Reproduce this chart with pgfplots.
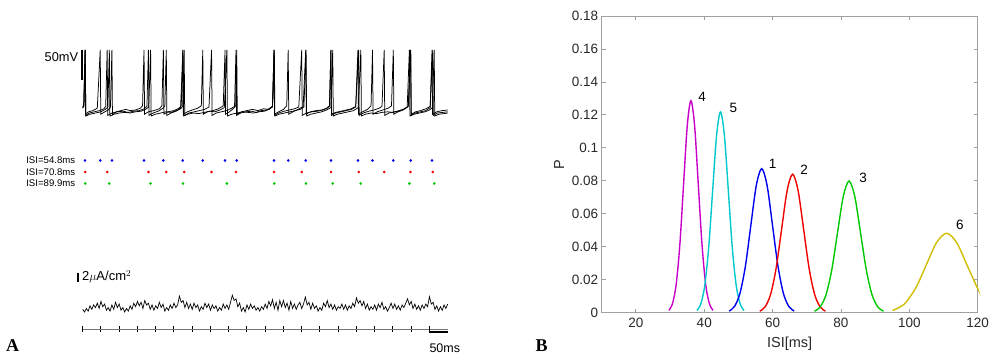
\documentclass[border=0pt]{standalone}
\usepackage{pgfplots}
\pgfplotsset{compat=1.18}
\usepackage{fontspec}
\setmainfont{Liberation Sans}
\newfontfamily\seriffont{Liberation Serif}
\definecolor{cmag}{RGB}{200,0,200}
\definecolor{ccyan}{RGB}{0,200,205}
\definecolor{cblue}{RGB}{0,0,240}
\definecolor{cred}{RGB}{240,0,0}
\definecolor{cgreen}{RGB}{0,200,0}
\definecolor{cyel}{RGB}{210,190,0}
\definecolor{boxgray}{RGB}{160,160,160}
\definecolor{labgray}{RGB}{40,40,40}
\begin{document}
\begin{tikzpicture}
\useasboundingbox (0pt,0pt) rectangle (1000pt,362pt);
\pgfplotsset{panelA/.style={scale only axis, width=365pt, xmin=0, xmax=1000, axis lines=none, clip=false, anchor=south west}}

% ---------------- voltage traces ----------------
\begin{axis}[panelA, at={(82.7pt,243pt)}, height=72pt, ymin=-80, ymax=40]
\addplot[black, line width=0.75pt] coordinates {
(0,-62) (3,-58) (6,35) (7.5,-72) (16,-68) (28,-66) (40,-62) (48,35) (49.5,-72) (58,-69) (70,-65) (76,-60) (80,35) (81.5,-73) (92,-68) (105,-66) (118,-64) (130,-66) (145,-65) (158,-62) (164,-58) (168,35) (169.5,-72) (180,-68) (195,-66) (210,-63) (217,-58) (221,35) (222.5,-72) (234,-68) (250,-66) (264,-62) (270,-58) (274,35) (275.5,-72) (287,-68) (300,-65) (315,-62) (325,-58) (329,35) (330.5,-72) (342,-68) (357,-66) (372,-63) (385,-58) (390,35) (391.5,-72) (402,-68) (414,-62) (419,-58) (422,35) (423.5,-72) (435,-68) (450,-66) (465,-64) (480,-66) (495,-63) (510,-64) (520,-58) (524,35) (525.5,-72) (537,-68) (550,-64) (559,-58) (563,35) (564.5,-72) (576,-68) (590,-64) (604,-59) (611,35) (612.5,-72) (624,-68) (640,-66) (655,-65) (668,-62) (676,-58) (680,35) (681.5,-72) (693,-69) (708,-67) (722,-65) (736,-63) (748,-59) (754,35) (755.5,-72) (767,-68) (780,-64) (790,-58) (794,35) (795.5,-72) (807,-68) (822,-65) (837,-62) (846,-58) (851,35) (852.5,-72) (864,-68) (878,-65) (892,-59) (899,35) (900.5,-72) (912,-68) (926,-66) (940,-63) (952,-59) (957,35) (958.5,-72) (970,-68) (985,-66) (1000,-65)};
\addplot[black, line width=0.75pt] coordinates {
(0,-60) (3,-57) (7,35) (8.5,-74) (18,-70) (32,-68) (46,-66) (58,-63) (63,-59) (67,35) (68.5,-74) (80,-70) (95,-68) (110,-67) (125,-69) (140,-67) (155,-66) (168,-63) (176,-59) (180,35) (181.5,-74) (193,-70) (207,-67) (220,-62) (225,-59) (229,35) (230.5,-74) (242,-70) (256,-67) (268,-63) (274,-59) (278,35) (279.5,-74) (291,-70) (306,-68) (320,-66) (334,-64) (346,-60) (353,35) (354.5,-74) (366,-70) (380,-68) (394,-66) (408,-62) (416,-59) (420,35) (421.5,-74) (433,-70) (448,-68) (462,-67) (476,-69) (490,-66) (504,-65) (516,-61) (520,-59) (524,35) (525.5,-74) (537,-70) (552,-67) (566,-65) (580,-63) (592,-60) (600,35) (601.5,-74) (613,-70) (628,-68) (643,-67) (658,-65) (670,-62) (676,-59) (680,35) (681.5,-74) (693,-70) (708,-68) (722,-66) (736,-64) (748,-60) (756,35) (757.5,-74) (769,-70) (784,-67) (798,-65) (812,-62) (820,-59) (826,35) (827.5,-74) (839,-70) (854,-68) (868,-66) (882,-63) (892,-59) (898,35) (899.5,-74) (911,-70) (926,-68) (940,-66) (952,-61) (959,35) (960.5,-74) (972,-70) (986,-69) (1000,-68)};
\addplot[black, line width=0.75pt] coordinates {
(0,-61) (3,-58) (7,35) (8.5,-75) (20,-72) (35,-70) (50,-68) (62,-64) (69,-60) (73,35) (74.5,-75) (86,-72) (100,-70) (115,-69) (130,-70) (145,-68) (160,-67) (172,-64) (181,-60) (186,35) (187.5,-75) (199,-72) (214,-70) (228,-68) (242,-69) (256,-66) (268,-62) (275,35) (276.5,-75) (288,-72) (303,-70) (318,-71) (333,-69) (348,-67) (362,-68) (376,-65) (388,-61) (395,35) (396.5,-75) (408,-72) (423,-70) (438,-68) (453,-69) (468,-70) (483,-68) (498,-67) (510,-64) (520,-60) (525,35) (526.5,-75) (538,-72) (553,-70) (568,-68) (582,-66) (596,-64) (606,-60) (612,35) (613.5,-75) (625,-72) (640,-70) (655,-68) (668,-65) (680,-61) (685,35) (686.5,-75) (698,-72) (713,-70) (728,-68) (742,-66) (755,-61) (762,35) (763.5,-75) (775,-72) (790,-70) (805,-71) (820,-69) (835,-68) (850,-69) (865,-67) (878,-64) (889,-60) (895,35) (896.5,-75) (908,-72) (923,-70) (938,-68) (950,-65) (958,-61) (963,35) (964.5,-75) (976,-72) (990,-71) (1000,-70)};
\addplot[black, line width=2pt] coordinates {(-3,35) (-3,-15)};
\node[anchor=east, inner sep=0pt, font=\fontsize{12.8}{14}\selectfont] at (axis cs:-12,22.5) {50mV};
\end{axis}

% ---------------- spike rasters ----------------
\begin{axis}[panelA, at={(82.7pt,172.75pt)}, height=34.5pt, ymin=0.5, ymax=3.5]
\addplot[only marks, mark=*, mark size=1.1pt, cblue, mark options={draw=none, fill=cblue}] coordinates {
(6,3) (48,3) (80,3) (168,3) (221,3) (274,3) (329,3) (390,3) (422,3) (524,3) (563,3) (611,3) (680,3) (754,3) (794,3) (851,3) (899,3) (957,3)};
\addplot[only marks, mark=*, mark size=1.1pt, cred, mark options={draw=none, fill=cred}] coordinates {
(7,2) (67,2) (180,2) (229,2) (278,2) (353,2) (420,2) (524,2) (600,2) (680,2) (756,2) (826,2) (898,2) (959,2)};
\addplot[only marks, mark=*, mark size=1.1pt, cgreen, mark options={draw=none, fill=cgreen}] coordinates {
(7,1) (73,1) (186,1) (275,1) (395,1) (525,1) (612,1) (685,1) (762,1) (895,1) (963,1)};
\node[anchor=west, inner sep=0pt, font=\fontsize{9.6}{11}\selectfont] at (axis cs:-155,3) {ISI=54.8ms};
\node[anchor=west, inner sep=0pt, font=\fontsize{9.6}{11}\selectfont] at (axis cs:-155,2) {ISI=70.8ms};
\node[anchor=west, inner sep=0pt, font=\fontsize{9.6}{11}\selectfont] at (axis cs:-155,1) {ISI=89.9ms};
\end{axis}

% ---------------- current trace ----------------
\begin{axis}[panelA, at={(82.7pt,42.1pt)}, height=48.4pt, ymin=-3, ymax=8]
\addplot[black, line width=0.7pt] coordinates {
(0,-0.6) (5,-1.2) (10,-0.4) (15,-1.0) (20,0.2) (25,-0.6) (30,0.4) (35,-0.2) (40,0.8) (45,-0.4)
(50,1.2) (55,0.0) (60,0.6) (65,-0.8) (70,-0.2) (75,-1.0) (80,0.4) (85,-0.6) (90,1.0) (95,-0.2)
(100,0.6) (105,-0.8) (110,-0.2) (115,-1.2) (120,-0.4) (125,-1.0) (130,0.2) (135,-0.6) (140,0.8) (145,0.0)
(150,1.2) (155,0.2) (160,1.0) (165,-0.4) (170,1.4) (175,0.4) (180,0.8) (185,-0.6) (190,0.4) (195,-0.8)
(200,0.2) (205,-0.4) (210,1.0) (215,-0.2) (220,0.6) (225,-1.0) (230,-0.2) (235,-0.8) (240,0.4) (245,-0.4)
(250,0.8) (255,-0.2) (260,0.4) (265,2.4) (270,1.0) (275,1.4) (280,-0.2) (285,1.0) (290,-0.4) (295,0.6)
(300,-0.6) (305,0.8) (310,-0.2) (315,0.4) (320,-1.0) (325,0.0) (330,-0.6) (335,0.8) (340,-0.2) (345,0.6)
(350,-0.8) (355,0.4) (360,-0.4) (365,0.2) (370,-1.0) (375,-0.2) (380,-0.8) (385,0.6) (390,-0.4) (395,0.4)
(400,-0.6) (405,1.0) (410,2.6) (415,1.4) (420,1.8) (425,0.0) (430,0.8) (435,-1.0) (440,-0.2) (445,-1.2)
(450,0.4) (455,-0.6) (460,0.6) (465,-0.4) (470,0.2) (475,-0.8) (480,-0.2) (485,-1.0) (490,0.0) (495,-0.6)
(500,0.6) (505,-0.4) (510,1.2) (515,0.2) (520,1.6) (525,-0.4) (530,1.0) (535,-0.8) (540,1.4) (545,0.0)
(550,1.4) (555,-0.2) (560,0.8) (565,-0.8) (570,1.2) (575,-0.4) (580,0.6) (585,-0.6) (590,0.4) (595,1.0)
(600,-0.4) (605,0.6) (610,2.2) (615,0.4) (620,1.0) (625,-0.6) (630,0.8) (635,-0.4) (640,0.2) (645,-1.0)
(650,-0.2) (655,-0.8) (660,0.8) (665,0.0) (670,1.4) (675,-0.2) (680,0.6) (685,-0.6) (690,0.4) (695,-0.8)
(700,0.0) (705,-0.4) (710,0.6) (715,-0.6) (720,0.4) (725,-0.8) (730,0.2) (735,-0.4) (740,0.8) (745,0.0)
(750,2.0) (755,0.8) (760,1.4) (765,0.2) (770,1.2) (775,-0.4) (780,0.6) (785,-0.8) (790,0.0) (795,-0.6)
(800,0.4) (805,-0.8) (810,0.6) (815,-0.2) (820,1.0) (825,-0.6) (830,0.0) (835,-1.0) (840,-0.2) (845,0.8)
(850,-0.4) (855,0.6) (860,-0.6) (865,0.2) (870,-0.8) (875,0.4) (880,-0.2) (885,0.8) (890,1.8) (895,0.4)
(900,1.2) (905,-0.4) (910,0.6) (915,-0.6) (920,0.2) (925,-0.8) (930,0.4) (935,-0.4) (940,0.6) (945,0.0)
(950,2.3) (955,0.6) (960,1.0) (965,-0.6) (970,0.2) (975,-1.0) (980,0.0) (985,-0.8) (990,0.4) (995,-0.4) (1000,0.6)};
\addplot[black, line width=2pt] coordinates {(-12,5.6) (-12,7.6)};
\node[anchor=west, inner sep=0pt, font=\fontsize{13}{14}\selectfont] at (axis cs:-2,6.8) {2$\mu$A/cm$^2$};
\end{axis}

% ---------------- time axis ----------------
\begin{axis}[scale only axis, width=365pt, xmin=0, xmax=1000, anchor=south west, clip=false,
  at={(82.7pt,32.7pt)}, height=6pt, ymin=0, ymax=1,
  axis x line=bottom, axis y line=none, axis line style={-, black!55, line width=1pt},
  xtick={0,50,100,150,200,250,300,350,400,450,500,550,600,650,700,750,800,850,900,950},
  xticklabels={}, tick align=center, major tick length=6pt,
  tick style={black, line width=1pt}]
\addplot[black, line width=1.4pt] coordinates {(950,-0.45) (1000,-0.45)};
\addplot[black, line width=1pt] coordinates {(950,0.55) (950,-0.55)};
\node[font=\fontsize{12.5}{14}\selectfont] at (axis cs:992,-3.17) {50ms};
\end{axis}

% ---------------- panel B ----------------
\begin{axis}[at={(601.7pt,49.3pt)}, anchor=south west, scale only axis,
  width=376pt, height=296.7pt, clip=false,
  xmin=10, xmax=120, ymin=0, ymax=0.18,
  xtick={20,40,60,80,100,120},
  ytick={0,0.02,0.04,0.06,0.08,0.1,0.12,0.14,0.16,0.18},
  scaled y ticks=false,
  yticklabel style={/pgf/number format/fixed, /pgf/number format/precision=2},
  /pgf/number format/assume math mode=true,
  tick pos=both, tick align=inside, major tick length=4pt,
  axis line style={boxgray, line width=0.8pt},
  tick style={boxgray, line width=0.8pt},
  ticklabel style={font=\fontsize{13.5}{15}\selectfont, text=labgray},
  xticklabel style={yshift=-2pt},
  xlabel={ISI[ms]}, ylabel={P},
  label style={font=\fontsize{14.5}{16}\selectfont, text=labgray},
  xlabel style={at={(axis description cs:0.5,-0.103)}, anchor=center},
  ylabel style={at={(axis description cs:-0.113,0.5)}, anchor=center},
  ]
\addplot[cmag, line width=1.4pt, smooth] coordinates {
(29.65,0.00143) (30.73,0.00565) (31.80,0.0174) (32.88,0.04176) (33.95,0.0780) (35.03,0.1135) (36.10,0.1286) (37.18,0.1135) (38.25,0.0780) (39.33,0.04176) (40.40,0.0174) (41.48,0.00565) (42.55,0.00143)};
\addplot[ccyan, line width=1.4pt, smooth] coordinates {
(37.85,0.00135) (39.00,0.00535) (40.15,0.01648) (41.30,0.03955) (42.45,0.07387) (43.60,0.10749) (44.75,0.1218) (45.90,0.10749) (47.05,0.07387) (48.20,0.03955) (49.35,0.01648) (50.50,0.00535) (51.65,0.00135)};
\addplot[cblue, line width=1.4pt, smooth] coordinates {
(47.29,0.00097) (48.88,0.00384) (50.46,0.01183) (52.05,0.02838) (53.63,0.05301) (55.22,0.07713) (56.80,0.0874) (58.39,0.07713) (59.97,0.05301) (61.56,0.02838) (63.14,0.01183) (64.73,0.00384) (66.31,0.00097)};
\addplot[cred, line width=1.4pt, smooth] coordinates {
(56.25,0.00093) (57.85,0.00369) (59.45,0.01137) (61.05,0.02727) (62.65,0.05095) (64.25,0.07413) (65.85,0.0840) (67.45,0.07413) (69.05,0.05095) (70.65,0.02727) (72.25,0.01137) (73.85,0.00369) (75.45,0.00093)};
\addplot[cgreen, line width=1.4pt, smooth] coordinates {
(72.24,0.00089) (73.93,0.00351) (75.61,0.01081) (77.30,0.02594) (78.98,0.04846) (80.67,0.07051) (82.35,0.0799) (84.04,0.07051) (85.72,0.04846) (87.41,0.02594) (89.09,0.01081) (90.78,0.00351) (92.46,0.00089)};
\addplot[cyel, line width=1.4pt, smooth] coordinates {
(95.1,0.00133) (97.6,0.00384) (99.1,0.00652) (102.05,0.01565) (105.0,0.02923) (107.95,0.04254) (110.9,0.0482) (113.85,0.04254) (116.8,0.02923) (119.75,0.01565) (120,0.01468)};
\node[font=\fontsize{13.5}{15}\selectfont] at (axis cs:39.4,0.1311) {4};
\node[font=\fontsize{13.5}{15}\selectfont] at (axis cs:48.5,0.1240) {5};
\node[font=\fontsize{13.5}{15}\selectfont] at (axis cs:60.0,0.0900) {1};
\node[font=\fontsize{13.5}{15}\selectfont] at (axis cs:69.2,0.0864) {2};
\node[font=\fontsize{13.5}{15}\selectfont] at (axis cs:86.5,0.0816) {3};
\node[font=\fontsize{13.5}{15}\selectfont] at (axis cs:114.8,0.0532) {6};
\end{axis}

\node[font=\seriffont\bfseries\fontsize{18}{20}\selectfont] at (12.5pt,16pt) {A};
\node[font=\seriffont\bfseries\fontsize{18}{20}\selectfont] at (541.5pt,16pt) {B};
\end{tikzpicture}
\end{document}
